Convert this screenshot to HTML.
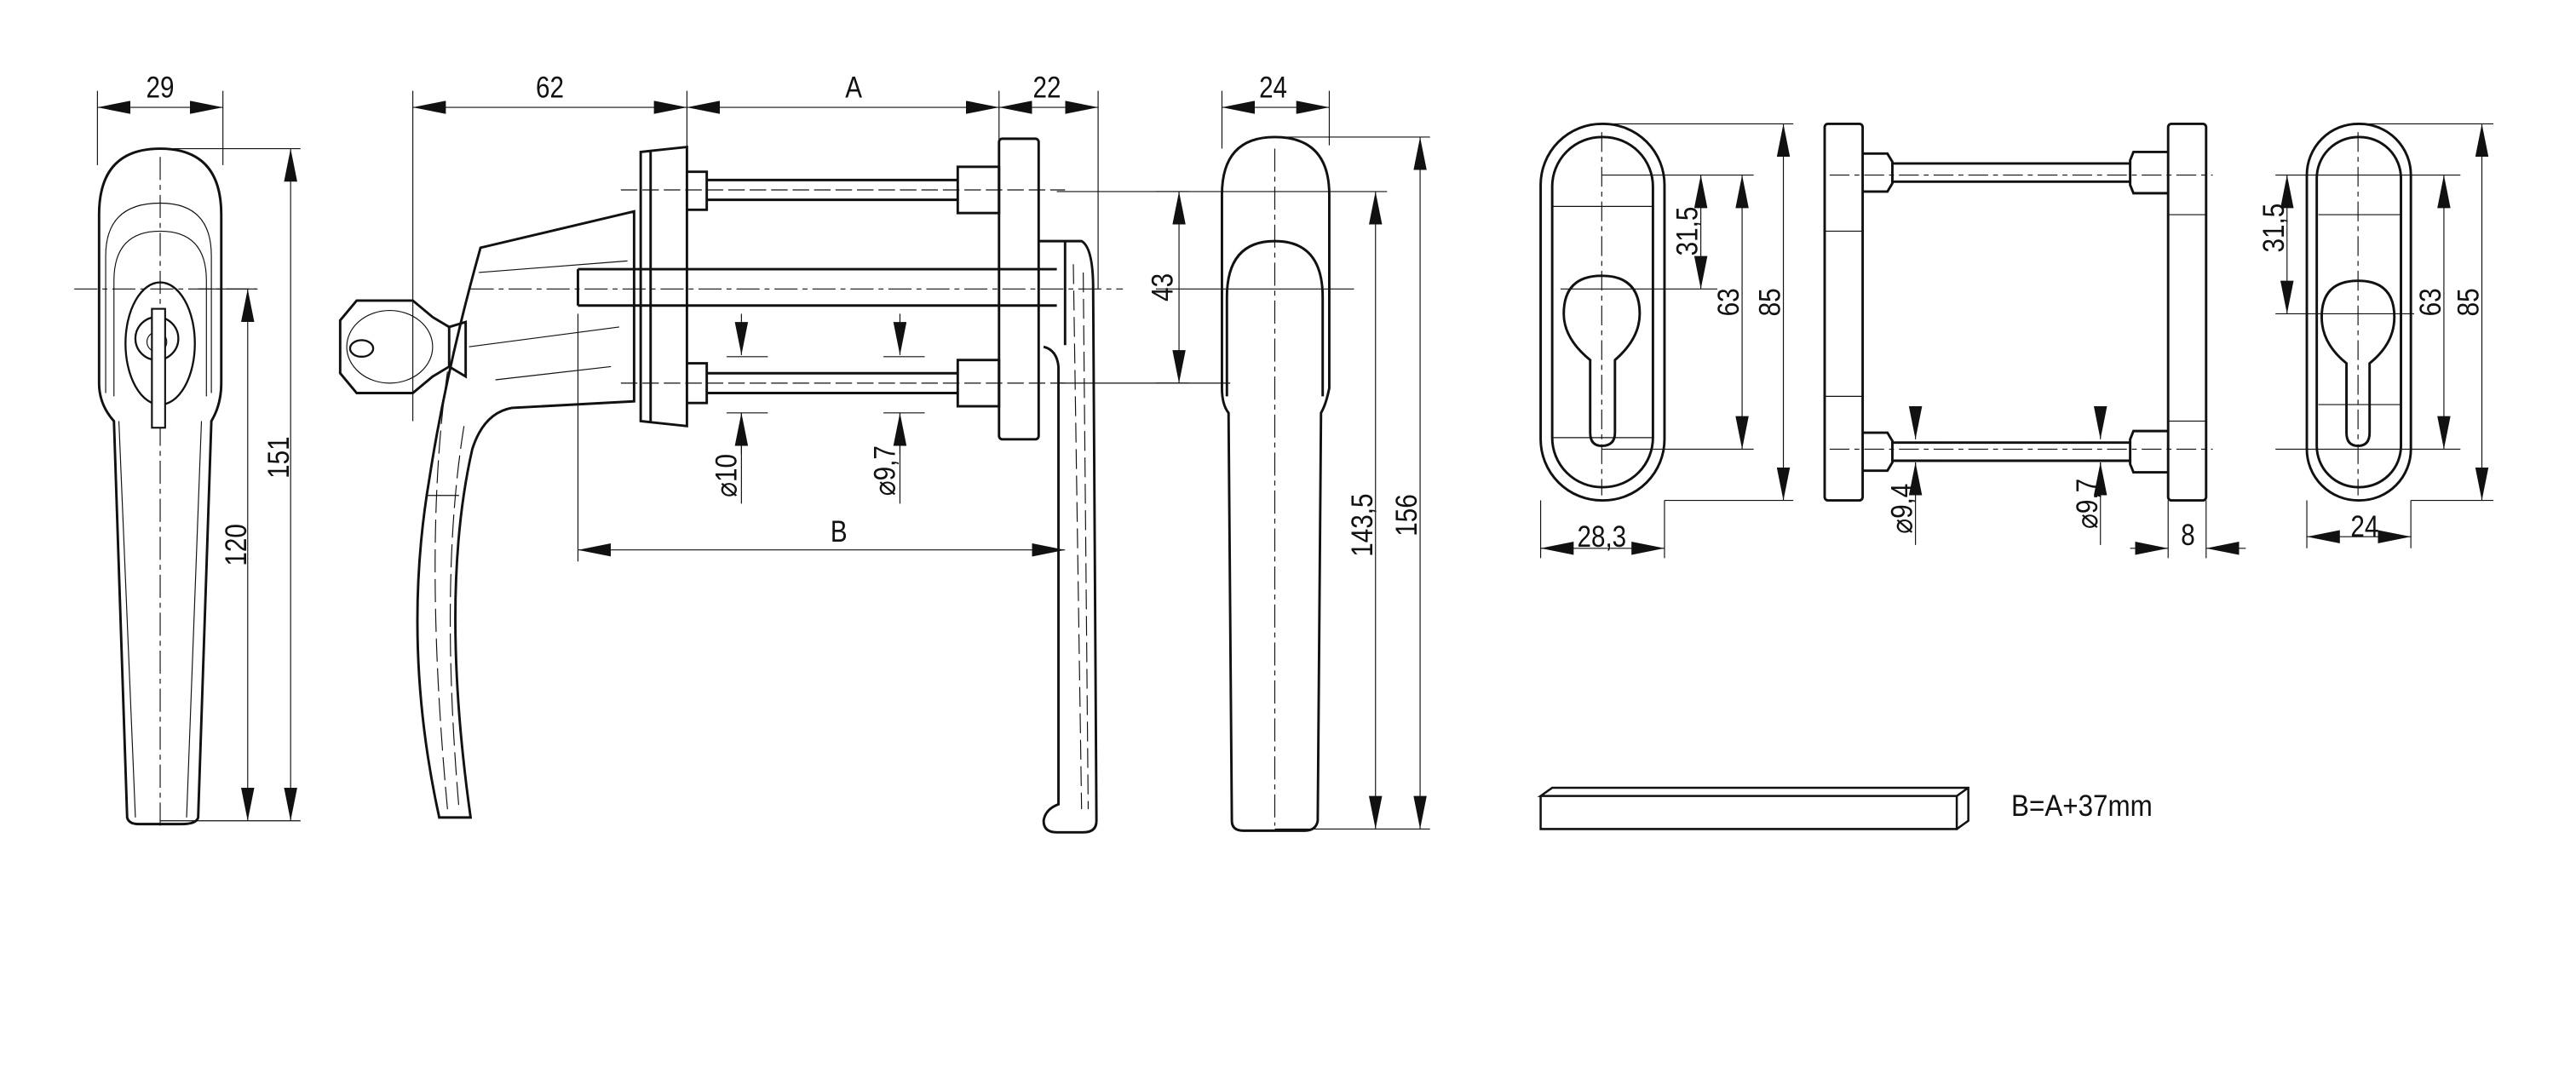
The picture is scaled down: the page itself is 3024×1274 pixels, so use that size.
<!DOCTYPE html>
<html><head><meta charset="utf-8"><style>
html,body{margin:0;padding:0;background:#fff;}
svg{display:block;}
text{font-family:"Liberation Sans",sans-serif;font-size:18px;fill:#111;}
</style></head><body>
<svg width="3024" height="1274" viewBox="0 0 1560 657" preserveAspectRatio="none" xmlns="http://www.w3.org/2000/svg">
<defs>
<marker id="a" viewBox="0 0 20 8" refX="20" refY="4" markerWidth="20" markerHeight="8" markerUnits="userSpaceOnUse" orient="auto-start-reverse"><path d="M0,0L20,4L0,8z" fill="#111"/></marker>
</defs>
<g fill="none" stroke="#111" stroke-width="0.6">
<!-- ===== View 1 ===== -->
<path d="M59,55V100M135,55V100"/>
<path d="M59,65H135" marker-start="url(#a)" marker-end="url(#a)"/>
<path d="M97,90H182M97,497H182M120,175H156"/>
<path d="M176,90V497" marker-start="url(#a)" marker-end="url(#a)"/>
<path d="M150,175V497" marker-start="url(#a)" marker-end="url(#a)"/>
<path d="M45,175H155" stroke-dasharray="14,3,3,3"/>
<path d="M97,95V500" stroke-dasharray="14,3,3,3"/>
<g stroke-width="1.5">
<path d="M60,232V130Q60,90 97,90Q134,90 134,130V232Q134,245 128,255L120,495Q119,499 110,499H84Q78,499 77,495L69,255Q60,245 60,232Z"/>
</g>
<path d="M64,238V155Q64,123 97,123Q128,123 128,155V238"/>
<path d="M69,240V170Q69,140 97,140Q125,140 125,170V240"/>
<path d="M72,255L82,495M122,255L113,495"/>
<ellipse cx="97" cy="208" rx="21" ry="37" stroke-width="1.2"/>
<circle cx="95" cy="205" r="13" stroke-width="1.2"/>
<circle cx="95" cy="207" r="6"/>
<rect x="92" y="187" width="8" height="72" fill="#fff" stroke-width="1.1"/>
<!-- ===== View 2 ===== -->
<path d="M250,55V255M416,55V95M605,55V88M665,55V175"/>
<path d="M250,65H416" marker-start="url(#a)" marker-end="url(#a)"/>
<path d="M416,65H605" marker-start="url(#a)" marker-end="url(#a)"/>
<path d="M605,65H665" marker-start="url(#a)" marker-end="url(#a)"/>
<path d="M285,175H680" stroke-dasharray="14,3,3,3"/>
<path d="M376,115H645M376,232H645" stroke-dasharray="10,3"/>
<g stroke-width="1.5">
<path d="M388,92L416,89V258L388,255Z"/>
<path d="M394,92V255"/>
<rect x="605" y="84" width="24" height="182" rx="2"/>
<path d="M416,104H428V127H416M416,220H428V244H416"/>
<rect x="580" y="101" width="25" height="28"/>
<rect x="580" y="218" width="25" height="28"/>
<path d="M428,109H580M428,121H580M428,226H580M428,238H580"/>
<path d="M350,163H640M350,185H640M350,163V185"/>
<!-- handle body + lever -->
<path d="M291,150L384,128V243L310,247Q293,250 286,272Q266,360 285,495H266Q243,390 260,290Q270,225 291,150Z"/>
<!-- right lever -->
<path d="M629,146H655Q662,150 662,175L664,497Q664,504 656,504H640Q632,504 632,497Q633,490 641,487L641,222Q640,212 632,210"/>
<path d="M645,146V209"/>
<!-- key -->
<path d="M216,182H250L262,192L272,198V222L262,228L250,238H216L206,226V194Z"/>
<path d="M272,198L282,195V228L272,222"/>
</g>
<ellipse cx="236" cy="210" rx="26" ry="22"/>
<ellipse cx="219" cy="211" rx="7" ry="5" stroke-width="1.2"/>
<path d="M290,165L380,158M284,210L375,198M300,230L370,222M258,300L278,300"/>
<path d="M271,225Q256,330 271,490M281,258Q266,350 278,490" stroke-dasharray="14,4"/>
<path d="M650,160L655,490M656,165L659,490" stroke-dasharray="12,4"/>
<path d="M449,190V215" marker-end="url(#a)"/><path d="M449,275V250" marker-end="url(#a)"/>
<path d="M449,250V305M440,216H465M440,250H465"/>
<path d="M545,190V215" marker-end="url(#a)"/><path d="M545,275V250" marker-end="url(#a)"/>
<path d="M545,250V305M535,216H560M535,250H560"/>
<path d="M350,190V340"/>
<path d="M350,333H645" marker-start="url(#a)" marker-end="url(#a)"/>
<path d="M640,116H720M640,232H720"/>
<path d="M714,116V232" marker-start="url(#a)" marker-end="url(#a)"/>
<!-- ===== View 3 ===== -->
<path d="M740,55V90M805,55V88"/>
<path d="M740,65H805" marker-start="url(#a)" marker-end="url(#a)"/>
<path d="M772,83H866M772,502H866M700,116H840M700,175H820M700,232H745"/>
<path d="M860,83V502" marker-start="url(#a)" marker-end="url(#a)"/>
<path d="M833,116V502" marker-start="url(#a)" marker-end="url(#a)"/>
<path d="M772,90V500" stroke-dasharray="14,3,3,3"/>
<g stroke-width="1.5">
<path d="M740,235V118Q740,83 772,83Q805,83 805,118V235Q803,245 800,250L798,497Q797,503 790,503H753Q746,503 746,497L744,250Q740,245 740,235Z"/>
<path d="M743,240V180Q743,146 772,146Q801,146 801,180V240"/>
</g>
<!-- ===== View 4 ===== -->
<path d="M970,75H1086M1008,303H1086M970,106H1062M970,272H1062M945,175H1040"/>
<path d="M1080,75V303" marker-start="url(#a)" marker-end="url(#a)"/>
<path d="M1055,106V272" marker-start="url(#a)" marker-end="url(#a)"/>
<path d="M1030,106V175" marker-start="url(#a)" marker-end="url(#a)"/>
<path d="M933,303V338M1008,303V338"/>
<path d="M933,332H1008" marker-start="url(#a)" marker-end="url(#a)"/>
<path d="M970,80V300" stroke-dasharray="12,3,3,3"/>
<path d="M940,125H1001M940,265H1001"/>
<g stroke-width="1.5">
<rect x="933" y="75" width="75" height="228" rx="37"/>
<rect x="940" y="83" width="61" height="212" rx="30"/>
<path d="M963,262V218Q947,205 947,190Q947,167 970,167Q993,167 993,190Q993,205 978,218V262Q978,270 970,270Q963,270 963,262Z"/>
</g>
<!-- ===== View 5 ===== -->
<g stroke-width="1.5">
<rect x="1105" y="75" width="23" height="228" rx="2"/>
<rect x="1313" y="75" width="23" height="228" rx="2"/>
<path d="M1128,93H1143L1146,98V111L1143,116H1128M1128,262H1143L1146,267V280L1143,285H1128"/>
<path d="M1313,92H1292L1290,97V112L1292,117H1313M1313,261H1292L1290,266V281L1292,286H1313"/>
<path d="M1146,99H1290M1146,110H1290M1146,268H1290M1146,279H1290"/>
</g>
<path d="M1108,106H1340M1108,272H1340" stroke-dasharray="12,3,3,3"/>
<path d="M1105,140H1128M1105,240H1128M1313,130H1336M1313,255H1336"/>
<path d="M1160,250V266" marker-end="url(#a)"/><path d="M1160,295V280" marker-end="url(#a)"/>
<path d="M1160,280V330M1150,268H1175M1150,279H1175"/>
<path d="M1272,250V266" marker-end="url(#a)"/><path d="M1272,295V280" marker-end="url(#a)"/>
<path d="M1272,280V330M1262,268H1285M1262,279H1285"/>
<path d="M1313,303V338M1336,303V338"/>
<path d="M1290,332H1313" marker-end="url(#a)"/><path d="M1360,332H1336" marker-end="url(#a)"/>
<!-- ===== View 6 ===== -->
<path d="M1428,75H1510M1460,303H1510M1378,106H1490M1378,272H1490M1378,190H1462"/>
<path d="M1503,75V303" marker-start="url(#a)" marker-end="url(#a)"/>
<path d="M1480,106V272" marker-start="url(#a)" marker-end="url(#a)"/>
<path d="M1385,106V190" marker-start="url(#a)" marker-end="url(#a)"/>
<path d="M1397,303V332M1460,303V332"/>
<path d="M1397,325H1460" marker-start="url(#a)" marker-end="url(#a)"/>
<path d="M1428,80V300" stroke-dasharray="12,3,3,3"/>
<path d="M1404,130H1454M1404,245H1454"/>
<g stroke-width="1.5">
<rect x="1397" y="75" width="63" height="228" rx="31"/>
<rect x="1403" y="83" width="51" height="212" rx="25"/>
<path d="M1421,262V220Q1406,208 1406,192Q1406,170 1428,170Q1450,170 1450,192Q1450,208 1435,220V262Q1435,270 1428,270Q1421,270 1421,262Z"/>
</g>
<!-- bar -->
<g stroke-width="1.3">
<path d="M933,482V502H1185V482H933L940,477H1192V497L1185,502M1185,482L1192,477"/>
</g>
</g>
<!-- text -->
<g>
<text transform="translate(97,59) scale(0.85,1)" text-anchor="middle">29</text>
<text transform="translate(333,59) scale(0.85,1)" text-anchor="middle">62</text>
<text transform="translate(517,59) scale(0.85,1)" text-anchor="middle">A</text>
<text transform="translate(634,59) scale(0.85,1)" text-anchor="middle">22</text>
<text transform="translate(771,59) scale(0.85,1)" text-anchor="middle">24</text>
<text transform="translate(508,328) scale(0.85,1)" text-anchor="middle">B</text>
<text transform="translate(175,277) rotate(-90) scale(0.85,1)" text-anchor="middle">151</text>
<text transform="translate(149,330) rotate(-90) scale(0.85,1)" text-anchor="middle">120</text>
<text transform="translate(446,288) rotate(-90) scale(0.85,1)" text-anchor="middle">⌀10</text>
<text transform="translate(542,285) rotate(-90) scale(0.85,1)" text-anchor="middle">⌀9,7</text>
<text transform="translate(710,174) rotate(-90) scale(0.85,1)" text-anchor="middle">43</text>
<text transform="translate(831,318) rotate(-90) scale(0.85,1)" text-anchor="middle">143,5</text>
<text transform="translate(858,312) rotate(-90) scale(0.85,1)" text-anchor="middle">156</text>
<text transform="translate(1028,140) rotate(-90) scale(0.85,1)" text-anchor="middle">31,5</text>
<text transform="translate(1053,183) rotate(-90) scale(0.85,1)" text-anchor="middle">63</text>
<text transform="translate(1078,183) rotate(-90) scale(0.85,1)" text-anchor="middle">85</text>
<text transform="translate(970,331) scale(0.85,1)" text-anchor="middle">28,3</text>
<text transform="translate(1158,308) rotate(-90) scale(0.85,1)" text-anchor="middle">⌀9,4</text>
<text transform="translate(1270,305) rotate(-90) scale(0.85,1)" text-anchor="middle">⌀9,7</text>
<text transform="translate(1325,330) scale(0.85,1)" text-anchor="middle">8</text>
<text transform="translate(1383,138) rotate(-90) scale(0.85,1)" text-anchor="middle">31,5</text>
<text transform="translate(1478,183) rotate(-90) scale(0.85,1)" text-anchor="middle">63</text>
<text transform="translate(1501,183) rotate(-90) scale(0.85,1)" text-anchor="middle">85</text>
<text transform="translate(1432,325) scale(0.85,1)" text-anchor="middle">24</text>
<text transform="translate(1218,494) scale(0.9,1)">B=A+37mm</text>
</g>
</svg>
</body></html>
